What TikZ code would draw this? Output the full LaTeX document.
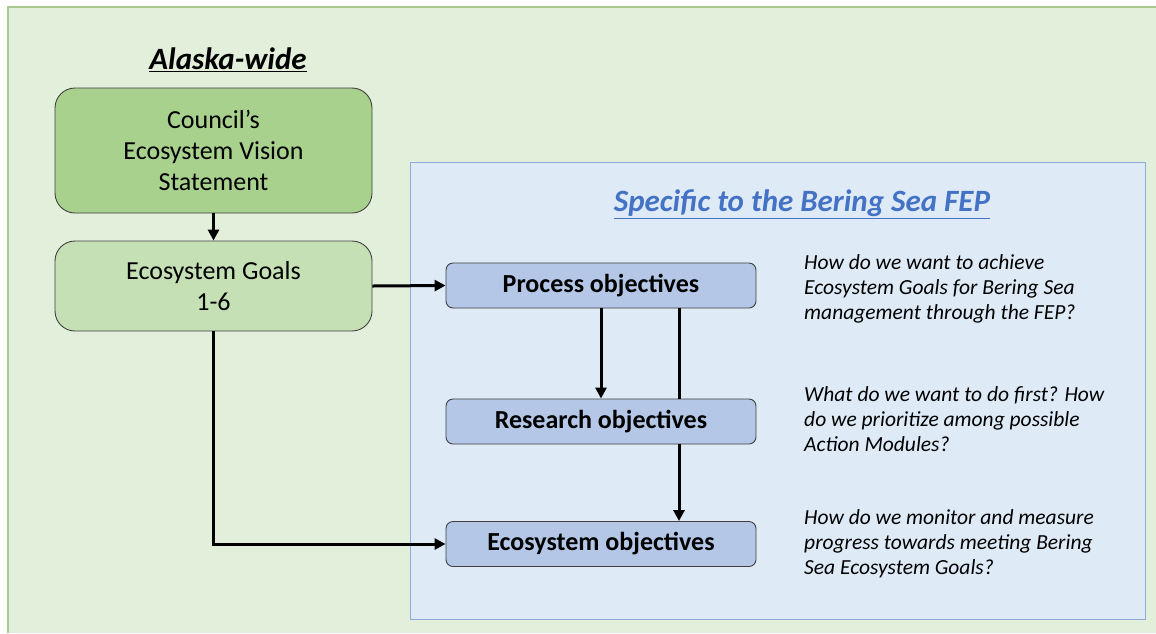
\documentclass[tikz,border=0pt]{standalone}
\usepackage{fontspec}
\setmainfont{Carlito}
\usepackage{tikz}
\usepackage{xcolor}
\usetikzlibrary{arrows.meta}

\definecolor{greenbg}{HTML}{E2EFDA}
\definecolor{greenedge}{HTML}{A9C98F}
\definecolor{visionfill}{HTML}{A9D18E}
\definecolor{goalfill}{HTML}{C5E0B4}
\definecolor{bluebg}{HTML}{DEEBF7}
\definecolor{blueedge}{HTML}{8FAADC}
\definecolor{objfill}{HTML}{B4C7E7}
\definecolor{titleblue}{HTML}{4472C4}

\begin{document}
\begin{tikzpicture}[x=1pt,y=-1pt,
	greenbox/.style={draw=black!75,line width=0.9pt,rounded corners=20pt,minimum width=317pt,align=center,font=\fontsize{26}{31}\selectfont},
	objbox/.style={draw=black!75,line width=0.9pt,fill=objfill,rounded corners=7pt,minimum width=310pt,minimum height=45pt,font=\fontsize{26}{30}\selectfont\bfseries},
	question/.style={anchor=west,align=left,inner sep=0pt,font=\fontsize{21.5}{25}\selectfont\itshape},
	link/.style={line width=3pt,-{Triangle[length=11pt,width=11pt]}}]
	\useasboundingbox (0,0) rectangle (1156,633);
	% panels
	\fill[greenbg] (8,7) rectangle (1156,633);
	\draw[greenedge,line width=1.2pt] (8,633)--(8,7)--(1156,7);
	\draw[fill=bluebg,draw=blueedge,line width=1pt] (410,162) rectangle (1145,619);
	\node (alaska) at (228,60){\fontsize{31}{36}\selectfont\bfseries\itshape\underline{Alaska-wide}};
	\node[text=titleblue] (bering) at (802,204){\fontsize{31}{36}\selectfont\bfseries\itshape\underline{Specific to the Bering Sea FEP}};
	% left column
	\node[greenbox,fill=visionfill,minimum height=125pt] (vision) at (213.5,150.5){Council's\\Ecosystem Vision\\Statement};
	\node[greenbox,fill=goalfill,minimum height=90pt] (goals) at (213.5,286){Ecosystem Goals\\1-6};
	% objectives
	\node[objbox] (process) at (601,285.5){Process objectives};
	\node[objbox] (research) at (601,421.5){Research objectives};
	\node[objbox] (ecoobj) at (601,544){Ecosystem objectives};
	\node[question] (qprocess) at (804,289){How do we want to achieve\\Ecosystem Goals for Bering Sea\\management through the FEP?};
	\node[question] (qresearch) at (804,419){What do we want to do first? How\\do we prioritize among possible\\Action Modules?};
	\node[question] (qeco) at (804,544){How do we monitor and measure\\progress towards meeting Bering\\Sea Ecosystem Goals?};
	% connectors
	\draw[link] (vision.south)--(goals.north);
	\draw[link] (goals.east)--(process.west);
	\draw[link] (process.south)--(research.north);
	\draw[line width=3pt] ([xshift=78pt]process.south)--([xshift=78pt]research.north);
	\draw[link] ([xshift=78pt]research.south)--([xshift=78pt]ecoobj.north);
	\draw[link] (goals.south)|-(ecoobj.west);
\end{tikzpicture}
\end{document}
